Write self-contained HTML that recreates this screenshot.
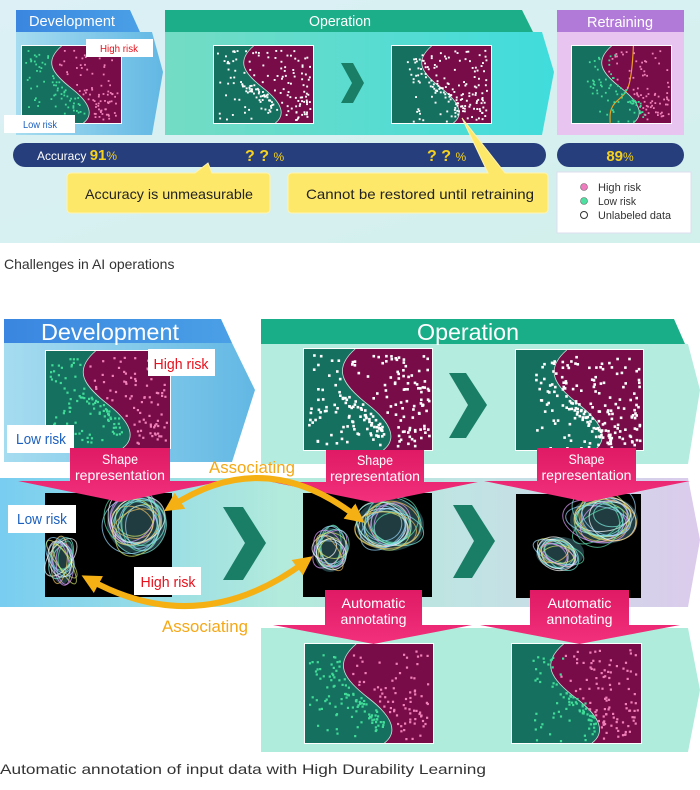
<!DOCTYPE html>
<html><head><meta charset="utf-8"><style>
body{margin:0;width:700px;height:790px;overflow:hidden;background:#fff;font-family:"Liberation Sans",sans-serif}
svg{display:block}
text{font-family:"Liberation Sans",sans-serif}
</style></head><body>
<svg id="s" width="700" height="790" viewBox="0 0 700 790" xmlns="http://www.w3.org/2000/svg">
<defs>
<linearGradient id="topbg" x1="0" y1="0" x2="1" y2="1"><stop offset="0" stop-color="#dcf0f6"/><stop offset="1" stop-color="#d2f0ec"/></linearGradient>
<linearGradient id="devb" x1="0" y1="0" x2="1" y2="0"><stop offset="0" stop-color="#a6dcf0"/><stop offset="1" stop-color="#62b8e4"/></linearGradient>
<linearGradient id="devh" x1="0" y1="0" x2="1" y2="0"><stop offset="0" stop-color="#3a86e0"/><stop offset="1" stop-color="#4aa0e6"/></linearGradient>
<linearGradient id="opb" x1="0" y1="0" x2="1" y2="0"><stop offset="0" stop-color="#74dcc4"/><stop offset="1" stop-color="#40dcdc"/></linearGradient>
<linearGradient id="mid" x1="0" y1="0" x2="1" y2="0"><stop offset="0" stop-color="#78cdf0"/><stop offset="0.4" stop-color="#b2eadc"/><stop offset="0.7" stop-color="#c2e2e4"/><stop offset="1" stop-color="#dccbec"/></linearGradient>
<linearGradient id="pink" x1="0" y1="0" x2="0" y2="1"><stop offset="0" stop-color="#e01a64"/><stop offset="1" stop-color="#f2307c"/></linearGradient>
<marker id="ah" viewBox="0 0 10 10" refX="5" refY="5" markerWidth="3.2" markerHeight="3.2" orient="auto-start-reverse"><path d="M0,0 L10,5 L0,10 z" fill="#f5b014"/></marker>
</defs>
<rect x="0" y="0" width="700" height="243" fill="url(#topbg)"/>
<polygon points="16,32 152,32 163,72 152,135 16,135" fill="url(#devb)"/>
<polygon points="16,10 130,10 140,32 16,32" fill="url(#devh)"/>
<text x="72" y="26" font-size="15" fill="#fff" text-anchor="middle" textLength="86" lengthAdjust="spacingAndGlyphs">Development</text>
<polygon points="165,32 542,32 554,72 542,135 165,135" fill="url(#opb)"/>
<polygon points="165,10 522,10 533,32 165,32" fill="#1cae88"/>
<text x="340" y="26" font-size="15" fill="#fff" text-anchor="middle" textLength="62" lengthAdjust="spacingAndGlyphs">Operation</text>
<rect x="557" y="32" width="127" height="103" fill="#e8c4f0"/>
<rect x="557" y="10" width="127" height="22" fill="#b27ad8"/>
<text x="620" y="27" font-size="15" fill="#fff" text-anchor="middle" textLength="66" lengthAdjust="spacingAndGlyphs">Retraining</text>
<g id="tp"></g>
<polygon points="341,63 353,63 364,83 353,103 341,103 352,83" fill="#1a7e66"/>
<rect x="86" y="39" width="67" height="18" fill="#fff"/>
<text x="119" y="52" font-size="10" fill="#e8101c" text-anchor="middle" textLength="38" lengthAdjust="spacingAndGlyphs">High risk</text>
<rect x="4" y="115" width="71" height="18" fill="#fff"/>
<text x="40" y="128" font-size="10" fill="#1a5fbf" text-anchor="middle" textLength="34" lengthAdjust="spacingAndGlyphs">Low risk</text>
<rect x="13" y="143" width="533" height="24" rx="12" fill="#263f7c"/>
<rect x="557" y="143" width="127" height="24" rx="12" fill="#263f7c"/>
<text x="37" y="160" font-size="12" fill="#fff">Accuracy <tspan fill="#f6d21e" font-size="15" font-weight="bold">91</tspan><tspan fill="#f6d21e" font-size="12">%</tspan></text>
<text x="245" y="161" font-size="16" fill="#f6d21e" font-weight="bold">? ? <tspan font-size="12" font-weight="normal">%</tspan></text>
<text x="427" y="161" font-size="16" fill="#f6d21e" font-weight="bold">? ? <tspan font-size="12" font-weight="normal">%</tspan></text>
<text x="620" y="161" font-size="15" fill="#f6d21e" font-weight="bold" text-anchor="middle">89<tspan font-size="12" font-weight="normal">%</tspan></text>
<path d="M72,173 L195,173 L208,163 L212,173 L266,173 Q270,173 270,177 L270,209 Q270,213 266,213 L71,213 Q67,213 67,209 L67,177 Q67,173 72,173 Z" fill="#fde86a" stroke="#fff3b0"/>
<text x="169" y="199" font-size="14" fill="#222" text-anchor="middle" textLength="168" lengthAdjust="spacingAndGlyphs">Accuracy is unmeasurable</text>
<path d="M293,173 L488,173 L462,118 L505,173 L544,173 Q548,173 548,177 L548,209 Q548,213 544,213 L292,213 Q288,213 288,209 L288,177 Q288,173 293,173 Z" fill="#fde86a" stroke="#fff3b0"/>
<text x="420" y="199" font-size="14" fill="#222" text-anchor="middle" textLength="228" lengthAdjust="spacingAndGlyphs">Cannot be restored until retraining</text>
<rect x="557" y="172" width="134" height="61" fill="#fff" stroke="#dde"/>
<circle cx="584" cy="187" r="3.5" fill="#f07cc0" stroke="#666" stroke-width="0.6"/>
<circle cx="584" cy="201" r="3.5" fill="#4ee0a0" stroke="#666" stroke-width="0.6"/>
<circle cx="584" cy="215" r="3.5" fill="#fff" stroke="#333" stroke-width="1"/>
<text x="598" y="191" font-size="11" fill="#333" textLength="43" lengthAdjust="spacingAndGlyphs">High risk</text>
<text x="598" y="205" font-size="11" fill="#333" textLength="38" lengthAdjust="spacingAndGlyphs">Low risk</text>
<text x="598" y="219" font-size="11" fill="#333" textLength="73" lengthAdjust="spacingAndGlyphs">Unlabeled data</text>
<text x="4" y="269" font-size="14" fill="#333">Challenges in AI operations</text>

<polygon points="4,343 232,343 255,390 232,462 4,462" fill="url(#devb)"/>
<polygon points="4,319 221,319 232,343 4,343" fill="url(#devh)"/>
<text x="110" y="340" font-size="23" fill="#fff" text-anchor="middle" textLength="138" lengthAdjust="spacingAndGlyphs">Development</text>
<polygon points="261,344 688,344 700,390 688,464 261,464" fill="#b4ecdf"/>
<polygon points="261,319 674,319 685,344 261,344" fill="#1aae88"/>
<text x="468" y="340" font-size="23" fill="#fff" text-anchor="middle" textLength="102" lengthAdjust="spacingAndGlyphs">Operation</text>
<polygon points="0,478 688,478 700,540 688,607 0,607" fill="url(#mid)"/>
<polygon points="261,628 688,628 700,690 688,752 261,752" fill="#b0ecdc"/>
<g id="bp"></g>
<polygon points="449,373 466,373 487,405 466,438 449,438 468,405" fill="#1a7e66"/>
<polygon points="223,507 243,507 266,543 243,580 223,580 245,543" fill="#1a7e66"/>
<polygon points="453,505 472,505 495,541 472,578 453,578 474,541" fill="#1a7e66"/>
<rect x="148" y="349" width="67" height="27" fill="#fff"/>
<text x="181" y="369" font-size="15" fill="#e8101c" text-anchor="middle" textLength="55" lengthAdjust="spacingAndGlyphs">High risk</text>
<rect x="7" y="425" width="67" height="28" fill="#fff"/>
<text x="41" y="444" font-size="15" fill="#1a5fbf" text-anchor="middle" textLength="50" lengthAdjust="spacingAndGlyphs">Low risk</text>
<rect x="8" y="505" width="68" height="28" fill="#fff"/>
<text x="42" y="524" font-size="15" fill="#1a5fbf" text-anchor="middle" textLength="50" lengthAdjust="spacingAndGlyphs">Low risk</text>
<rect x="134" y="567" width="67" height="28" fill="#fff"/>
<text x="168" y="587" font-size="15" fill="#e8101c" text-anchor="middle" textLength="55" lengthAdjust="spacingAndGlyphs">High risk</text>
<g id="arr"></g>
<path d="M172,506 Q265,445 357,517" fill="none" stroke="#f5b014" stroke-width="6" marker-start="url(#ah)" marker-end="url(#ah)"/>
<path d="M90,580 Q200,640 305,562" fill="none" stroke="#f5b014" stroke-width="6" marker-start="url(#ah)" marker-end="url(#ah)"/>
<text x="252" y="473" font-size="17" fill="#f5a816" text-anchor="middle" textLength="86" lengthAdjust="spacingAndGlyphs">Associating</text>
<text x="205" y="632" font-size="17" fill="#f5a816" text-anchor="middle" textLength="86" lengthAdjust="spacingAndGlyphs">Associating</text>
<text x="0" y="774" font-size="14" fill="#333" textLength="486" lengthAdjust="spacingAndGlyphs">Automatic annotation of input data with High Durability Learning</text>
</svg>
<script>
var NS="http://www.w3.org/2000/svg";
var seed=7;function r(){seed=(seed*16807)%2147483647;return (seed-1)/2147483646;}
function el(p,t,a){var e=document.createElementNS(NS,t);for(var k in a)e.setAttribute(k,a[k]);p.appendChild(e);return e;}
function bz(t){ // cubic S-curve param -> [x,y]
  var P=[[0.40,0],[0.22,0.2],[0.30,0.35],[0.50,0.55]],Q=[[0.50,0.55],[0.70,0.75],[0.72,0.9],[0.62,1]];
  var A=t<0.5?P:Q,u=t<0.5?t*2:(t-0.5)*2,v=1-u;
  var f=function(i){return v*v*v*A[0][i]+3*v*v*u*A[1][i]+3*v*u*u*A[2][i]+u*u*u*A[3][i];};
  return [f(0),f(1)];
}
var tab=[];for(var i=0;i<=200;i++)tab.push(bz(i/200));
function bx(t){for(var i=1;i<tab.length;i++){if(tab[i][1]>=t){return tab[i][0];}}return 0.62;}
function plot(g,x,y,w,h,mode,n,ds){
  el(g,"rect",{x:x-1,y:y-1,width:w+2,height:h+2,fill:"#fff"});
  el(g,"rect",{x:x,y:y,width:w,height:h,fill:"#16705f"});
  var X=function(a){return (x+w*a).toFixed(1)},Y=function(a){return (y+h*a).toFixed(1)};
  var d="M"+X(0.40)+","+Y(0)+" C"+X(0.22)+","+Y(0.2)+" "+X(0.30)+","+Y(0.35)+" "+X(0.5)+","+Y(0.55)+" C"+X(0.7)+","+Y(0.75)+" "+X(0.72)+","+Y(0.9)+" "+X(0.62)+","+Y(1);
  el(g,"path",{d:d+" L"+(x+w)+","+(y+h)+" L"+(x+w)+","+y+"Z",fill:"#780c48"});
  el(g,"path",{d:d,fill:"none",stroke:"#c9e4da","stroke-width":0.8});
  if(mode=="retrain"){el(g,"path",{d:"M"+X(0.62)+","+y+" C"+X(0.6)+","+Y(0.6)+" "+X(0.55)+","+Y(0.6)+" "+X(0.45)+","+Y(0.72)+" S"+X(0.4)+","+Y(1)+" "+X(0.38)+","+Y(1),fill:"none",stroke:"#f0a020","stroke-width":1.2});}
  var s=ds||1.6;
  for(var i=0;i<n;i++){
    var v=r(),lo=r()<0.5;var px,py;var cl=r()<0.35;
    if(lo){ if(cl){var t=r();py=0.45+t*0.4+(r()-0.5)*0.08;px=bx(py)-0.05-r()*0.12;}else{py=0.05+v*0.9;px=0.03+r()*(bx(py)-0.06);} }
    else{ py=0.05+v*0.9;px=bx(py)+0.04+r()*(0.93-bx(py)); }
    var shift=(mode=="white2"||mode=="annot2"||mode=="retrain")?1:0;
    if(shift&&lo){px+=0.12;py+=0.05;if(py>0.97)py=0.97;}
    var c;
    if(mode=="white"||mode=="white2")c="#fff";
    else if(mode=="annot2"){c=(px>bx(py)&&py>0.6)?"#f080b8":(lo?"#40dc98":"#f080b8");}
    else c=lo?"#40dc98":"#f080b8";
    el(g,"rect",{x:(x+px*w).toFixed(1),y:(y+py*h).toFixed(1),width:s,height:s,fill:c});
  }
}
var tp=document.getElementById("tp");
plot(tp,22,46,99,77,"dev",150,1.8);
plot(tp,214,46,99,77,"white",170,1.9);
plot(tp,392,46,99,77,"white2",170,1.9);
plot(tp,572,46,99,77,"retrain",150,1.8);
var bp=document.getElementById("bp");
plot(bp,46,351,124,97,"dev",180,2.2);
plot(bp,304,349,128,101,"white",200,2.6);
plot(bp,516,350,127,100,"white2",200,2.6);
plot(bp,305,644,128,99,"dev",180,2.2);
plot(bp,512,644,129,99,"annot2",180,2.2);
function blob(g,cx,cy,rx,ry,n){
  var cols=["#7ef0e0","#9ad8ff","#d6e86a","#e0a0ff","#ffffff","#60e0b0","#f0c060"];
  el(g,"ellipse",{cx:cx,cy:cy,rx:rx,ry:ry,fill:"#6ec8d8",opacity:0.3});
  for(var i=0;i<n;i++){el(g,"ellipse",{cx:cx+(r()-0.5)*rx*0.5,cy:cy+(r()-0.5)*ry*0.5,rx:rx*(0.5+r()*0.5),ry:ry*(0.5+r()*0.5),transform:"rotate("+(r()*80-40)+" "+cx+" "+cy+")",fill:"none",stroke:cols[i%cols.length],"stroke-width":1,opacity:0.7});}
}
var k=[[45,493,127,104],[303,493,129,104],[516,494,125,104]];
k.forEach(function(b){el(bp,"rect",{x:b[0],y:b[1],width:b[2],height:b[3],fill:"#000"});});
blob(bp,137,523,30,30,16);blob(bp,62,560,12,24,12);
blob(bp,390,525,34,26,16);blob(bp,330,550,16,22,12);
blob(bp,604,520,34,24,16);blob(bp,560,553,24,16,12);
var ar=document.getElementById("arr");
var LW={"Shape":36,"representation":90,"Automatic":64,"annotating":66};
function parrow(x,y,w,h,hx1,hx2,hy,l1,l2){
  var cx=x+w/2;
  el(ar,"polygon",{points:[x+","+y,(x+w)+","+y,(x+w)+","+(y+h),hx2+","+(y+h),cx+","+hy,hx1+","+(y+h),x+","+(y+h)].join(" "),fill:"url(#pink)"});
  var t1=el(ar,"text",{x:cx,y:y+h-17,"font-size":14,fill:"#fff","text-anchor":"middle",textLength:LW[l1],lengthAdjust:"spacingAndGlyphs"});t1.textContent=l1;
  var t2=el(ar,"text",{x:cx,y:y+h-1,"font-size":14,fill:"#fff","text-anchor":"middle",textLength:LW[l2],lengthAdjust:"spacingAndGlyphs"});t2.textContent=l2;
}
parrow(70,448,100,33,18,223,502,"Shape","representation");
parrow(326,450,98,32,272,478,503,"Shape","representation");
parrow(537,448,99,33,484,690,502,"Shape","representation");
parrow(325,590,97,35,273,472,644,"Automatic","annotating");
parrow(530,590,99,35,480,680,644,"Automatic","annotating");
</script>
</body></html>
